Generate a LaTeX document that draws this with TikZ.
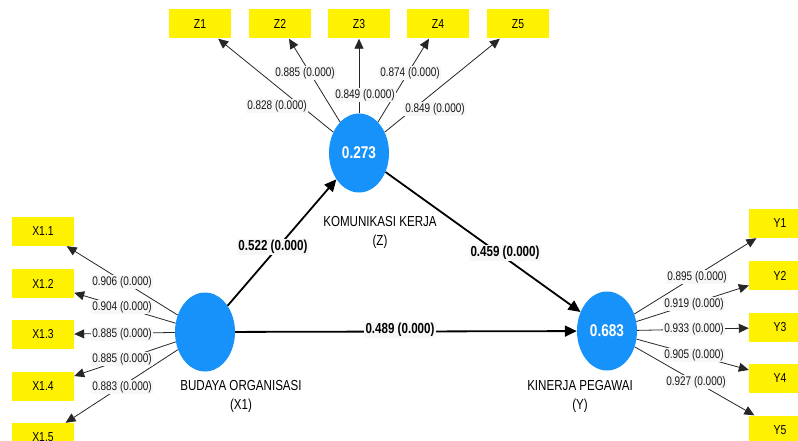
\documentclass[tikz,border=0pt]{standalone}
\usepackage{fontspec}
\setmainfont{Liberation Sans}[FakeStretch=0.8]
\usetikzlibrary{shapes.geometric, positioning, arrows.meta}
\definecolor{plsblue}{RGB}{22,146,250}

\begin{document}
\begin{tikzpicture}[x=1pt, y=-1pt,
  latent/.style={ellipse, fill=plsblue, minimum width=60pt, minimum height=79pt,
                 inner sep=0pt, text=white, font=\fontsize{17}{19}\selectfont\bfseries},
  indic/.style={rectangle, fill=yellow, minimum width=62pt, minimum height=29pt,
                inner sep=0pt, font=\fontsize{13}{15}\selectfont},
  load/.style={fill=gray!6, inner sep=1.5pt, text=black!90,
               font=\fontsize{12.5}{14}\selectfont},
  coef/.style={fill=gray!6, inner sep=1.5pt, font=\fontsize{14.5}{16}\selectfont\bfseries},
  lvname/.style={align=center, font=\fontsize{14.5}{19}\selectfont},
  loadarr/.style={-{Triangle[length=10pt,width=9pt]}, black!85, line width=0.8pt},
  patharr/.style={-{Triangle[length=12pt,width=11pt]}, line width=1.8pt},
]
\useasboundingbox (0,0) rectangle (798,441);
\clip (0,0) rectangle (798,441);

% latent variables
\node[latent] (komunikasi) at (359,153) {0.273};
\node[latent] (budaya) at (205,332) {};
\node[latent] (kinerja) at (607,331) {0.683};

\node[lvname, below=20pt of komunikasi, xshift=21pt] (nameZ) {KOMUNIKASI KERJA\\(Z)};
\node[lvname, below=5pt of budaya, xshift=36pt] (nameX) {BUDAYA ORGANISASI\\(X1)};
\node[lvname, below=6pt of kinerja, xshift=-27pt] (nameY) {KINERJA PEGAWAI\\(Y)};

% indicators
\foreach \i/\x in {1/200, 2/280, 3/359, 4/438, 5/518}
  \node[indic] (z\i) at (\x,24) {Z\i};
\foreach \i/\y in {1/231.5, 2/283.5, 3/334.5, 4/386.5, 5/437.5}
  \node[indic] (x\i) at (43,\y) {X1.\i};
\foreach \i/\y in {1/223.5, 2/275.5, 3/327.5, 4/378.5, 5/430}
  \node[indic] (y\i) at (780,\y) {Y\i};

% outer loadings
\foreach \i in {1,...,5} {
  \draw[loadarr] (komunikasi) -- (z\i);
  \draw[loadarr] (budaya) -- (x\i);
  \draw[loadarr] (kinerja) -- (y\i);
}

% structural paths
\draw[patharr] (budaya) -- (komunikasi);
\draw[patharr] (komunikasi) -- (kinerja);
\draw[patharr] (budaya) -- (kinerja);

% labels
\foreach \n/\v/\lx/\ly in {lz1/0.828/277/106, lz2/0.885/305/73, lz3/0.849/365/95,
                           lz4/0.874/410/73, lz5/0.849/435/109,
                           lx1/0.906/122/282, lx2/0.904/122/307, lx3/0.885/122/334,
                           lx4/0.885/122/359, lx5/0.883/122/387,
                           ly1/0.895/697/277, ly2/0.919/694/304, ly3/0.933/694/329,
                           ly4/0.905/694/355, ly5/0.927/696/382}
  \node[load] (\n) at (\lx,\ly) {\v\ (0.000)};

\node[coef] (pXZ) at (273,247) {0.522 (0.000)};
\node[coef] (pZY) at (505,253) {0.459 (0.000)};
\node[coef] (pXY) at (400,330) {0.489 (0.000)};
\end{tikzpicture}
\end{document}
